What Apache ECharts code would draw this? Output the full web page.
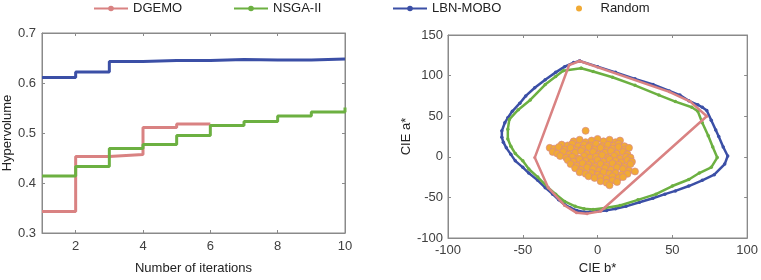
<!DOCTYPE html>
<html>
<head>
<meta charset="utf-8">
<script src="https://cdn.jsdelivr.net/npm/echarts@6/dist/echarts.min.js"></script>
<style>html,body{margin:0;padding:0;background:#fff;}#c{width:761px;height:280px;}</style>
</head>
<body>
<div id="c"></div>
<script>
// ---- data ----
const iterations = [1,2,3,4,5,6,7,8,9,10];
const dgemoHV = [0.343,0.453,0.457,0.511,0.518,0.518];
const nsgaHV  = [0.414,0.433,0.469,0.477,0.495,0.515,0.523,0.534,0.542,0.551];
const lbnHV   = [0.611,0.622,0.643,0.645,0.645,0.647,0.646,0.646,0.648,0.648];
const xTickValues = [2,4,6,8,10];

// CIE gamut polygons [b*, a*]
const lbnGamut = [[-12,118],[0,111],[12,104],[25,96],[37,89],[48,81],[55,76],[61,69],[67,64],[70,61],[73,57],[76,45],[79,33],[81,25],[84,12],[87,1],[85,-9],[78,-22],[70,-29],[61,-36],[52,-42],[45,-46],[37,-51],[28,-56],[19,-61],[12,-64],[6,-66],[0,-67],[-5,-68],[-9,-68],[-14,-66],[-18,-63],[-22,-59],[-26,-53],[-30,-46],[-35,-38],[-40,-29],[-46,-20],[-50,-13],[-55,-5],[-58,3],[-61,11],[-63,18],[-64,24],[-64,32],[-62,42],[-60,48],[-57,56],[-52,66],[-48,75],[-42,85],[-35,95],[-28,104],[-22,111],[-16,116],[-12,118]];
const nsgaGamut = [[-11,109],[-3,105],[10,98],[25,88],[41,76],[52,68],[63,61],[67,56],[70,42],[74,26],[77,12],[80,-1],[76,-13],[68,-20],[61,-28],[50,-36],[39,-46],[27,-53],[15,-60],[5,-63],[-3,-65],[-9,-64],[-15,-61],[-22,-55],[-28,-46],[-33,-38],[-40,-25],[-46,-15],[-50,-5],[-55,4],[-58,13],[-60,22],[-60,34],[-59,46],[-53,58],[-45,70],[-35,89],[-28,99],[-23,106],[-11,109]];
const dgemoGamut = [[-12,118],[48,80],[62,68],[73,50],[2,-67],[-7,-70],[-14,-69],[-22,-60],[-33,-38],[-42,-1],[-19,113],[-12,118]];
const randomPts = [
 [-8,32],
 [-16,19],[-12,21],[-8,18],[-4,20],[0,22],[4,19],[8,21],[12,18],[15,20],
 [-24,15],[-20,14],[-17,16],[-13,13],[-9,15],[-5,14],[-1,16],[3,13],[7,15],[11,14],[14,16],[18,13],
 [-32,11],[-29,10],[-26,12],[-22,9],[-18,11],[-14,8],[-10,10],[-6,12],[-2,9],[2,11],[6,8],[10,10],[14,12],[18,9],[21,11],
 [-30,6],[-27,4],[-23,6],[-19,3],[-15,5],[-11,7],[-7,4],[-3,6],[1,3],[5,5],[9,7],[13,4],[17,6],[20,3],
 [-25,1],[-21,-1],[-17,0],[-13,-2],[-9,1],[-5,-1],[-1,0],[3,2],[7,-1],[11,1],[15,-2],[19,0],[22,-1],
 [-20,-4],[-16,-6],[-12,-3],[-8,-5],[-4,-7],[0,-4],[4,-6],[8,-3],[12,-5],[16,-7],[20,-4],[23,-6],
 [-18,-9],[-14,-11],[-10,-8],[-6,-10],[-2,-12],[2,-9],[6,-11],[10,-8],[14,-10],[18,-12],[22,-9],
 [-15,-14],[-11,-16],[-7,-13],[-3,-15],[1,-17],[5,-14],[9,-16],[13,-13],[17,-15],[21,-17],[25,-18],
 [-12,-19],[-8,-21],[-4,-20],[0,-22],[4,-19],[8,-21],[12,-20],[16,-22],[20,-21],
 [-6,-24],[-2,-26],[2,-25],[6,-27],[10,-24],[14,-26],[17,-25],
 [2,-30],[6,-32],[10,-29],[13,-31],
 [8,-35]
];

const C_RED = '#d98282', C_GREEN = '#6cb041', C_BLUE = '#3b4fa6', C_ORANGE = '#f1aa35';
const FONT = 'Liberation Sans';
const AXC = '#8a8a8a', TXT = '#404040';

function pair(xs, ys){ return ys.map((v,i)=>[xs[i], v]); }

const chart = echarts.init(document.getElementById('c'), null, {renderer:'canvas'});

function legendFor(name, left, extra){
  return Object.assign({
    data:[name], left:left, top:2, padding:0, itemWidth:34, itemHeight:7, itemGap:5,
    textStyle:{fontFamily:FONT, fontSize:13, color:'#222'},
    selectedMode:false
  }, extra||{});
}
const tickStyle = {show:true, inside:true, length:3, lineStyle:{color:AXC}};
const lineStyleAx = {show:true, onZero:false, lineStyle:{color:AXC, width:1}};
function boxAxes(gridIndex, xmin, xmax, ymin, ymax, xint, yint, xCustom){
  const xs = {type:'value', gridIndex, min:xmin, max:xmax, position:'top', axisLine:lineStyleAx,
    axisTick: Object.assign({}, tickStyle, xCustom?{customValues:xCustom}:{}),
    axisLabel:{show:false}, splitLine:{show:false}};
  if (xint) xs.interval = xint;
  const ys = {type:'value', gridIndex, min:ymin, max:ymax, interval:yint, position:'right', axisLine:lineStyleAx,
    axisTick:tickStyle, axisLabel:{show:false}, splitLine:{show:false}};
  return {xs, ys};
}

const lb = boxAxes(0, 1, 10, 0.3, 0.7, null, 0.1, xTickValues);
const rb = boxAxes(1, -100, 100, -100, 150, 50, 50, null);
const nameStyle = {fontFamily:FONT, fontSize:13, color:'#222'};

const option = {
  animation:false,
  backgroundColor:'#fff',
  legend:[
    legendFor('DGEMO', 93),
    legendFor('NSGA-II', 233),
    legendFor('LBN-MOBO', 392),
    legendFor('Random', 576, {icon:'circle', itemWidth:33, itemHeight:6,
      itemStyle:{color:C_ORANGE, borderWidth:0}})
  ],
  grid:[
    {left:42, top:33, width:303, height:203, show:true, borderColor:AXC, borderWidth:1},
    {left:448, top:35, width:303, height:203, show:true, borderColor:AXC, borderWidth:1}
  ],
  xAxis:[
    {type:'value', gridIndex:0, min:1, max:10, name:'Number of iterations', nameLocation:'middle', nameGap:29,
     nameTextStyle:nameStyle, axisLine:lineStyleAx,
     axisTick:Object.assign({}, tickStyle, {customValues:xTickValues}),
     axisLabel:{customValues:xTickValues, margin:7, fontFamily:FONT, fontSize:13, color:TXT},
     splitLine:{show:false}},
    lb.xs,
    {type:'value', gridIndex:1, min:-100, max:100, interval:50, name:'CIE b*', nameLocation:'middle', nameGap:24,
     nameTextStyle:nameStyle, axisLine:lineStyleAx, axisTick:tickStyle,
     axisLabel:{margin:6, fontFamily:FONT, fontSize:13, color:TXT, showMinLabel:true, showMaxLabel:true},
     splitLine:{show:false}},
    rb.xs
  ],
  yAxis:[
    {type:'value', gridIndex:0, min:0.3, max:0.7, interval:0.1, name:'Hypervolume', nameLocation:'middle', nameGap:28,
     nameTextStyle:nameStyle, axisLine:lineStyleAx, axisTick:tickStyle,
     axisLabel:{margin:6, fontFamily:FONT, fontSize:13, color:TXT, formatter:v=>v.toFixed(1)},
     splitLine:{show:false}},
    lb.ys,
    {type:'value', gridIndex:1, min:-100, max:150, interval:50, name:'CIE a*', nameLocation:'middle', nameGap:32,
     nameTextStyle:nameStyle, axisLine:lineStyleAx, axisTick:tickStyle,
     axisLabel:{margin:5, fontFamily:FONT, fontSize:13, color:TXT},
     splitLine:{show:false}},
    rb.ys
  ],
  series:[
    {name:'LBN-MOBO', type:'line', xAxisIndex:2, yAxisIndex:2, data:lbnGamut, symbol:'circle', symbolSize:3.5,
     showSymbol:true, lineStyle:{color:C_BLUE, width:2.5}, itemStyle:{color:C_BLUE}, z:2},
    {name:'NSGA-II', type:'line', xAxisIndex:2, yAxisIndex:2, data:nsgaGamut, symbol:'circle', symbolSize:3.5,
     showSymbol:true, lineStyle:{color:C_GREEN, width:2.5}, itemStyle:{color:C_GREEN}, z:3},
    {name:'DGEMO', type:'line', xAxisIndex:2, yAxisIndex:2, data:dgemoGamut, symbol:'circle', symbolSize:3,
     showSymbol:true, lineStyle:{color:C_RED, width:2.5}, itemStyle:{color:C_RED}, z:4},
    {name:'Random', type:'scatter', xAxisIndex:2, yAxisIndex:2, data:randomPts, symbol:'circle', symbolSize:7,
     itemStyle:{color:C_ORANGE, borderColor:'#d88a8a', borderWidth:0.7, opacity:1}, z:5},
    {name:'DGEMO', type:'line', xAxisIndex:0, yAxisIndex:0, step:'end', data:pair(iterations, dgemoHV),
     symbol:'none', lineStyle:{color:C_RED, width:3}, itemStyle:{color:C_RED}},
    {name:'NSGA-II', type:'line', xAxisIndex:0, yAxisIndex:0, step:'end', data:pair(iterations, nsgaHV),
     symbol:'none', lineStyle:{color:C_GREEN, width:3}, itemStyle:{color:C_GREEN}},
    {name:'LBN-MOBO', type:'line', xAxisIndex:0, yAxisIndex:0, step:'end', data:pair(iterations, lbnHV),
     symbol:'none', lineStyle:{color:C_BLUE, width:3}, itemStyle:{color:C_BLUE}}
  ]
};
chart.setOption(option);
</script>
</body>
</html>
